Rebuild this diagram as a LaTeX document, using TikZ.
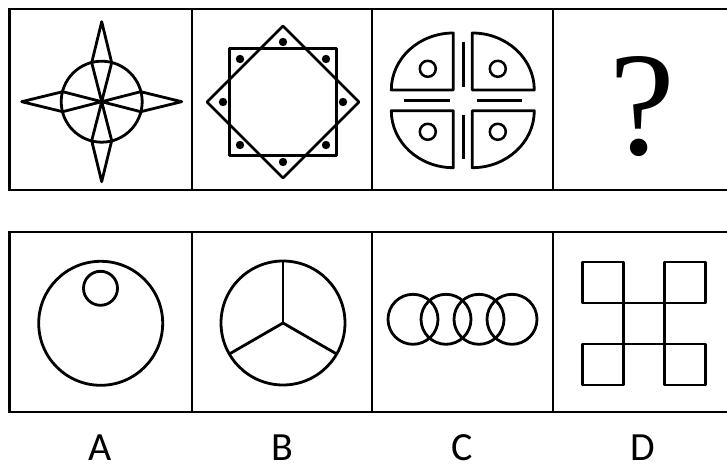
\documentclass[tikz,border=0pt]{standalone}
\usepackage{fontspec}
\newfontfamily\labelfont{Carlito}
\newfontfamily\qfont{Liberation Serif}
\begin{document}
\begin{tikzpicture}[x=1pt,y=1pt,
  frameline/.style={line width=2.8pt,line cap=rect},
  figline/.style={line width=2.8pt,line join=round},
  lbl/.style={font=\labelfont\fontsize{40}{40}\selectfont,inner sep=0pt}]
\useasboundingbox (0,0) rectangle (727,466);
% ---- frames ----
\draw[frameline] (9.5,457) -- (727,457) (9.5,276) -- (727,276);
\foreach \x in {9.5,192,372,553} \draw[frameline] (\x,457) -- (\x,276);
\draw[frameline] (9.5,234) -- (727,234) (9.5,54) -- (727,54);
\foreach \x in {9.5,192,372,553} \draw[frameline] (\x,234) -- (\x,54);
% ---- panel 1: star in circle ----
\begin{scope}[shift={(101.7,364.3)}]
  \draw[figline] (0,0) circle[radius=40.5];
  \foreach \a in {0,90,180,270}
    \draw[figline,rotate=\a] (0,0) -- (10,39) -- (0,80) -- (-10,39) -- cycle;
\end{scope}
% ---- panel 2: square and diamond with dots ----
\begin{scope}[shift={(283,364)}]
  \draw[figline] (-53.5,-53.5) rectangle (53.5,53.5);
  \draw[figline] (0,76) -- (76,0) -- (0,-76) -- (-76,0) -- cycle;
  \foreach \p in {(0,60),(0,-60),(60,0),(-60,0),(43,43),(-43,43),(43,-43),(-43,-43)}
    \fill \p circle[radius=4.2];
\end{scope}
% ---- panel 3: four quarters ----
\draw[figline] (453.3,376) -- (453.3,433) arc[start angle=90,end angle=180,x radius=62,y radius=57] -- cycle;
\draw[figline] (472.3,376) -- (534.3,376) arc[start angle=0,end angle=90,x radius=62,y radius=57] -- cycle;
\draw[figline] (453.3,355.3) -- (391.3,355.3) arc[start angle=180,end angle=270,x radius=62,y radius=57] -- cycle;
\draw[figline] (472.3,355.3) -- (472.3,298.3) arc[start angle=270,end angle=360,x radius=62,y radius=57] -- cycle;
\foreach \p in {(427.8,397.2),(497.8,397.2),(427.8,334.2),(497.8,334.2)}
  \draw[line width=2.5pt] \p circle[radius=8];
\draw[figline] (463.2,424.3) -- (463.2,378.7) (463.2,351) -- (463.2,306.7);
\draw[figline] (404.3,365.3) -- (450,365.3) (476.7,365.3) -- (522.3,365.3);
% ---- panel 4: question mark ----
\node[anchor=base,inner sep=0pt,font=\qfont\fontsize{148}{148}\selectfont] (q) at (642,311) {?};
% ---- option A ----
\draw[figline] (100.7,142.7) circle[radius=62];
\draw[figline] (100.5,177.7) circle[radius=17];
% ---- option B ----
\draw[figline] (283,143) circle[radius=62];
\foreach \a in {90,210,330} \draw[figline] (283,143) -- ++(\a:62);
% ---- option C ----
\foreach \x in {413,446,479,512} \draw[figline] (\x,146.7) circle[radius=25];
% ---- option D ----
\draw[figline] (582.5,204) rectangle (623.5,163);
\draw[figline] (664.5,204) rectangle (705.5,163);
\draw[figline] (582.5,122) rectangle (623.5,81);
\draw[figline] (664.5,122) rectangle (705.5,81);
\draw[figline] (623.5,163) rectangle (664.5,122);
% ---- labels ----
\node[lbl] (la) at (100,18.5) {A};
\node[lbl] (lb) at (282,18.5) {B};
\node[lbl] (lc) at (462,18.5) {C};
\node[lbl] (ld) at (643,18.5) {D};
\end{tikzpicture}
\end{document}
